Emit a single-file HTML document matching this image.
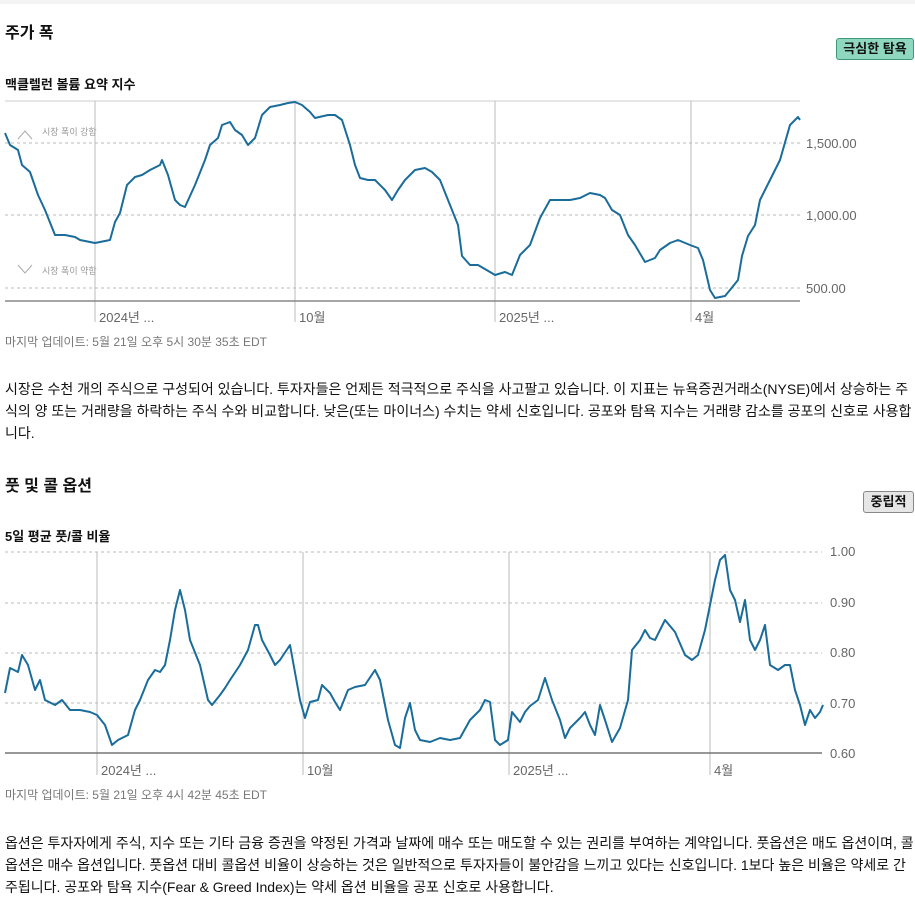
<!DOCTYPE html>
<html><head><meta charset="utf-8"><style>
body{margin:0;width:915px;height:889px;overflow:hidden;background:#fff;font-family:"Liberation Sans","Noto Sans CJK KR",sans-serif;color:#111;position:relative}
.a{position:absolute;white-space:nowrap}
h2{position:absolute;margin:0;font-size:16px;font-weight:bold}
.sub{font-size:13px;font-weight:bold}
.p{font-size:14px;line-height:22px;color:#111}
.upd{font-size:12px;color:#777}
.badge{position:absolute;font-size:13px;font-weight:bold;border-radius:3px;text-align:center;line-height:20px}
svg text{font-family:"Liberation Sans","Noto Sans CJK KR",sans-serif}
</style></head><body>
<div style="position:absolute;left:0;top:0;width:915px;height:4px;background:#f4f4f4"></div>
<h2 style="left:5px;top:19px">주가 폭</h2>
<div class="badge" style="left:836px;top:38px;width:76px;height:20px;background:#8fd8bf;border:1px solid #3e9a78">극심한 탐욕</div>
<div class="a sub" style="left:5px;top:74px">맥클렐런 볼륨 요약 지수</div>
<svg class="a" style="left:0;top:0" width="915" height="889">
<g fill="none">
<line x1="5" y1="101" x2="800" y2="101" stroke="#ccc"/>
<line x1="5" y1="143" x2="800" y2="143" stroke="#bbb" stroke-dasharray="3,3"/>
<line x1="5" y1="215" x2="800" y2="215" stroke="#bbb" stroke-dasharray="3,3"/>
<line x1="5" y1="288" x2="800" y2="288" stroke="#bbb" stroke-dasharray="3,3"/>
<line x1="95" y1="101" x2="95" y2="322" stroke="#bbb"/>
<line x1="295" y1="101" x2="295" y2="322" stroke="#bbb"/>
<line x1="495" y1="101" x2="495" y2="322" stroke="#bbb"/>
<line x1="691" y1="101" x2="691" y2="322" stroke="#bbb"/>
<line x1="5" y1="301" x2="800" y2="301" stroke="#888" stroke-width="1.5"/>
<polyline stroke="#aaa" points="18,139 25,131 32,139"/>
<polyline stroke="#aaa" points="18,265 25,273 32,265"/>
<polyline stroke="#1a6c9a" stroke-width="2" stroke-linejoin="round" points="5,133 10,145 18,150 22,165 30,172 38,195 45,210 55,235 65,235 75,237 80,240 90,242 95,243 110,240 115,222 120,213 127,185 135,177 142,175 150,170 160,165 162,160 168,175 175,200 180,205 185,207 195,185 205,160 210,145 218,138 222,125 230,122 235,130 242,135 248,145 255,138 262,115 270,107 280,105 288,103 295,102 302,105 310,112 315,118 328,115 335,115 342,120 350,145 355,165 360,178 368,180 375,180 385,190 392,200 398,190 405,180 415,170 425,168 432,172 440,180 448,200 452,210 458,225 462,256 470,265 478,265 490,272 495,275 505,272 512,275 520,255 530,245 540,218 550,200 560,200 570,200 580,198 590,193 600,195 605,198 612,210 620,215 628,235 635,245 645,262 655,258 660,250 670,243 678,240 690,245 698,248 703,260 710,290 715,298 720,297 725,296 730,290 738,280 742,256 748,236 755,225 760,200 770,180 780,160 790,125 798,117 800,120"/>
</g>
<g font-size="9" fill="#999"><text x="42" y="135">시장 폭이 강함</text><text x="42" y="274">시장 폭이 약함</text></g>
<g font-size="13" fill="#666">
<text x="806" y="148">1,500.00</text><text x="806" y="220">1,000.00</text><text x="806" y="293">500.00</text>
<text x="99" y="322">2024년 ...</text><text x="299" y="322">10월</text><text x="499" y="322">2025년 ...</text><text x="695" y="322">4월</text>
</g>
<!-- chart 2 -->
<g fill="none">
<line x1="5" y1="552" x2="822" y2="552" stroke="#bbb" stroke-dasharray="3,3"/>
<line x1="5" y1="603" x2="822" y2="603" stroke="#bbb" stroke-dasharray="3,3"/>
<line x1="5" y1="653" x2="822" y2="653" stroke="#bbb" stroke-dasharray="3,3"/>
<line x1="5" y1="703" x2="822" y2="703" stroke="#bbb" stroke-dasharray="3,3"/>
<line x1="97" y1="552" x2="97" y2="775" stroke="#bbb"/>
<line x1="303" y1="552" x2="303" y2="775" stroke="#bbb"/>
<line x1="509" y1="552" x2="509" y2="775" stroke="#bbb"/>
<line x1="710" y1="552" x2="710" y2="775" stroke="#bbb"/>
<line x1="5" y1="753" x2="822" y2="753" stroke="#777" stroke-width="1.5"/>
<polyline stroke="#1a6c9a" stroke-width="2" stroke-linejoin="round" points="5,693 10,668 18,672 22,655 28,665 35,690 40,680 45,700 55,705 62,700 70,710 80,710 90,712 97,715 105,725 112,745 118,740 128,735 135,710 140,700 148,680 155,670 160,672 165,665 170,640 175,610 180,590 185,610 190,640 200,665 208,700 212,705 220,695 225,688 230,680 240,665 248,650 255,625 258,625 262,640 270,655 275,665 280,660 290,645 300,700 305,718 310,702 318,700 322,685 330,693 335,702 340,710 348,690 355,687 365,685 375,670 380,680 388,720 395,745 400,748 405,718 410,703 415,730 420,740 430,742 440,738 450,740 460,738 470,720 480,710 485,700 490,702 495,740 500,745 508,740 512,712 520,722 525,712 530,706 538,700 545,678 552,700 560,720 565,738 570,728 580,718 585,712 590,725 595,735 600,705 605,720 612,742 620,728 628,700 632,650 640,640 645,630 650,638 655,640 665,620 675,632 685,655 692,660 698,655 705,630 710,605 715,580 720,560 725,555 730,590 735,600 740,622 745,600 750,640 755,650 760,640 765,625 770,665 778,670 785,665 790,665 795,690 800,705 805,725 810,710 815,718 820,712 823,705"/>
</g>
<g font-size="13" fill="#666">
<text x="830" y="556">1.00</text><text x="830" y="607">0.90</text><text x="830" y="657">0.80</text><text x="830" y="708">0.70</text><text x="830" y="758">0.60</text>
<text x="101" y="775">2024년 ...</text><text x="307" y="775">10월</text><text x="513" y="775">2025년 ...</text><text x="714" y="775">4월</text>
</g>
</svg>
<div class="a upd" style="left:5px;top:333px">마지막 업데이트: 5월 21일 오후 5시 30분 35초 EDT</div>
<div class="a p" style="left:5px;top:378px">시장은 수천 개의 주식으로 구성되어 있습니다. 투자자들은 언제든 적극적으로 주식을 사고팔고 있습니다. 이 지표는 뉴욕증권거래소(NYSE)에서 상승하는 주<br>식의 양 또는 거래량을 하락하는 주식 수와 비교합니다. 낮은(또는 마이너스) 수치는 약세 신호입니다. 공포와 탐욕 지수는 거래량 감소를 공포의 신호로 사용합<br>니다.</div>
<h2 style="left:5px;top:472px">풋 및 콜 옵션</h2>
<div class="badge" style="left:863px;top:491px;width:49px;height:20px;background:#e6e6e6;border:1px solid #888">중립적</div>
<div class="a sub" style="left:5px;top:526px">5일 평균 풋/콜 비율</div>
<div class="a upd" style="left:5px;top:786px">마지막 업데이트: 5월 21일 오후 4시 42분 45초 EDT</div>
<div class="a p" style="left:5px;top:832px">옵션은 투자자에게 주식, 지수 또는 기타 금융 증권을 약정된 가격과 날짜에 매수 또는 매도할 수 있는 권리를 부여하는 계약입니다. 풋옵션은 매도 옵션이며, 콜<br>옵션은 매수 옵션입니다. 풋옵션 대비 콜옵션 비율이 상승하는 것은 일반적으로 투자자들이 불안감을 느끼고 있다는 신호입니다. 1보다 높은 비율은 약세로 간<br>주됩니다. 공포와 탐욕 지수(Fear &amp; Greed Index)는 약세 옵션 비율을 공포 신호로 사용합니다.</div>
</body></html>
